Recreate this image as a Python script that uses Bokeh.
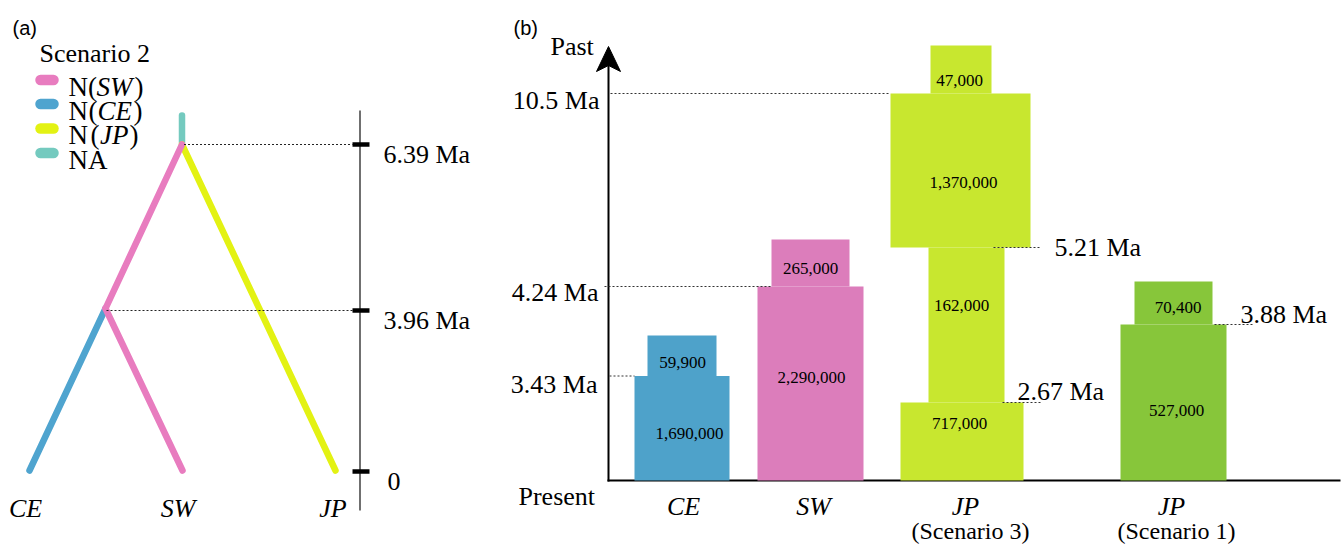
import numpy as np
from bokeh.plotting import figure
from bokeh.models import Range1d
from bokeh.core.properties import value
from bokeh.embed import file_html
from bokeh.resources import INLINE

# ======================= DATA =======================
# Panel (a): Scenario 2 population tree
tree_title = "Scenario 2"
legend_names = ["SW", "CE", "JP", "NA"]
tip_names = ["CE", "SW", "JP"]
split_ce_sw = 3.96      # Ma
split_root = 6.39       # Ma
ticks_a = [0.0, 3.96, 6.39]
tick_labels_a = ["0", "3.96 Ma", "6.39 Ma"]

# Panel (b): effective population size histories
bar_names = ["CE", "SW", "JP", "JP"]
bar_notes = ["", "", "(Scenario 3)", "(Scenario 1)"]
change_ce = [3.43]
ne_ce = [1690000, 59900]
change_sw = [4.24]
ne_sw = [2290000, 265000]
change_jp3 = [2.67, 5.21, 10.5]
ne_jp3 = [717000, 162000, 1370000, 47000]
change_jp1 = [3.88]
ne_jp1 = [527000, 70400]
ticks_b_left = [10.5, 4.24, 3.43]
ticks_b_right = [5.21, 2.67, 3.88]

# ======================= LAYOUT / STYLE =======================
SERIF = value("Liberation Serif")
SANS = value("Liberation Sans")
C_PINK_T, C_BLUE_T, C_YEL_T, C_TEAL = "#E87CBF", "#4FA4CF", "#E3F213", "#74CABF"
C_BLUE_B, C_PINK_B, C_YG_B, C_GREEN_B = "#4EA2CA", "#DC7DBB", "#C8E72F", "#87C63A"

# schematic (not-to-scale) vertical placement of the times
A_Y = [471, 310, 144]
def ya(t):
    return float(np.interp(t, ticks_a, A_Y))

B_T = [0, 2.67, 3.43, 3.88, 4.24, 5.21, 10.5]
B_Y = [480, 402, 375.5, 324, 286, 247, 93]
def yb(t):
    return float(np.interp(t, B_T, B_Y))

W, H = 1343, 545
p = figure(width=W, height=H, x_range=Range1d(0, W), y_range=Range1d(H, 0),
           output_backend="svg", toolbar_location=None, min_border=0,
           x_axis_type=None, y_axis_type=None)
p.grid.visible = False
p.outline_line_color = None
p.background_fill_color = "white"
p.border_fill_color = "white"


def txt(x, y, s, size, align="left", style="normal", font=SERIF, baseline="alphabetic"):
    p.text(x=[x], y=[y], text=[s], text_font=font, text_font_size=f"{size}px",
           text_align=align, text_baseline=baseline, text_font_style=style,
           text_color="black")

# ----------------------- Panel (a) -----------------------
txt(12, 27, "(a)", 20, font=SANS)
txt(39, 53, tree_title, 26)

leg_colors = [C_PINK_T, C_BLUE_T, C_YEL_T, C_TEAL]
leg_y = [79.5, 103.5, 128, 152.5]
paren_x = [87.5, 88, 90]
name_x = [96, 97, 99.5]
close_x = [134, 133, 129]
p.segment(x0=[40] * 4, x1=[53] * 4, y0=leg_y, y1=leg_y, line_color=leg_colors,
          line_width=10.5, line_cap="round")
for i, nm in enumerate(legend_names):
    yb_ = leg_y[i] + 6.5
    if nm == "NA":
        txt(68, yb_, "NA", 27)
    else:
        txt(68, yb_, "N", 27)
        txt(paren_x[i], yb_, "(", 27)
        txt(name_x[i], yb_, nm, 27, style="italic")
        txt(close_x[i], yb_, ")", 27)

tip_x = {"CE": 29, "SW": 182, "JP": 335}
node_x = 105
root_x = 181.5
y_root = ya(split_root)
y_node = ya(split_ce_sw)
y_tip = ya(0) - 1
lw = 6.5
# ancestral stub
p.segment(x0=[root_x], y0=[115], x1=[root_x], y1=[y_root - 2], line_color=C_TEAL,
          line_width=lw, line_cap="round")
p.segment(x0=[root_x], y0=[y_root], x1=[tip_x["JP"]], y1=[y_tip], line_color=C_YEL_T,
          line_width=lw, line_cap="round")
p.segment(x0=[node_x], y0=[y_node - 2], x1=[tip_x["CE"]], y1=[y_tip], line_color=C_BLUE_T,
          line_width=lw, line_cap="round")
p.segment(x0=[node_x], y0=[y_node - 2], x1=[tip_x["SW"]], y1=[y_tip], line_color=C_PINK_T,
          line_width=lw, line_cap="round")
p.segment(x0=[root_x], y0=[y_root], x1=[node_x], y1=[y_node - 2], line_color=C_PINK_T,
          line_width=lw, line_cap="round")

# time axis
p.segment(x0=[359.5], y0=[110], x1=[359.5], y1=[510], line_color="#333333", line_width=1.4)
p.segment(x0=[root_x + 2, node_x + 1], y0=[y_root, y_node], x1=[352, 352], y1=[y_root, y_node],
          line_color="#222222", line_width=1, line_dash="2 2")
p.segment(x0=[352] * 3, x1=[369] * 3, y0=[ya(t) for t in ticks_a], y1=[ya(t) for t in ticks_a],
          line_color="black", line_width=4.5)
for t, lab in zip(ticks_a, tick_labels_a):
    txt(387 if lab == "0" else 383, ya(t) + 9.5, lab, 26)

tip_cx = {"CE": 25, "SW": 177.5, "JP": 332.5}
for nm in tip_names:
    txt(tip_cx[nm], 508, nm, 26, align="center", style="italic")

# ----------------------- Panel (b) -----------------------
txt(513, 27, "(b)", 20, font=SANS)
txt(550, 46, "Past", 26)
txt(518, 496, "Present", 26)

# axes
p.segment(x0=[608], y0=[481], x1=[608], y1=[62], line_color="black", line_width=2)
p.segment(x0=[607], y0=[480], x1=[1340], y1=[480], line_color="black", line_width=2)
p.patch(x=[608, 620, 608, 596], y=[46, 71, 65, 71], fill_color="black", line_color="black",
        line_width=1)

bars = [
    (change_ce, ne_ce, C_BLUE_B, 335,
     [(634, 729), (647, 716)], [(689, 433), (682, 362)]),
    (change_sw, ne_sw, C_PINK_B, 239,
     [(757, 863), (771, 849)], [(811, 377), (810, 268)]),
    (change_jp3, ne_jp3, C_YG_B, 45,
     [(900, 1023), (928, 1004), (890, 1030), (930, 991)],
     [(959, 423), (961, 305), (963, 182), (959, 80)]),
    (change_jp1, ne_jp1, C_GREEN_B, 281,
     [(1120, 1226), (1134, 1212)], [(1176, 410), (1177.5, 307)]),
]
for changes, nes, col, cap_top, xs, labs in bars:
    bottoms = [yb(0)] + [yb(t) for t in changes]
    tops = [yb(t) for t in changes] + [cap_top]
    p.quad(left=[a for a, b in xs], right=[b for a, b in xs], top=tops, bottom=bottoms,
           fill_color=col, line_color=None)
    for (lx, ly), ne in zip(labs, nes):
        txt(lx, ly, f"{ne:,}", 17, align="center")

# dotted time guides
lx0 = {10.5: 610, 4.24: 604, 3.43: 609}
lx1 = {10.5: 890, 4.24: 771, 3.43: 634}
p.segment(x0=[lx0[t] for t in ticks_b_left], x1=[lx1[t] for t in ticks_b_left],
          y0=[yb(t) for t in ticks_b_left], y1=[yb(t) for t in ticks_b_left],
          line_color="#333333", line_width=1, line_dash="2 2")
rx0 = {5.21: 993, 2.67: 1002, 3.88: 1214}
rx1 = {5.21: 1041, 2.67: 1041, 3.88: 1253}
p.segment(x0=[rx0[t] for t in ticks_b_right], x1=[rx1[t] for t in ticks_b_right],
          y0=[yb(t) for t in ticks_b_right], y1=[yb(t) for t in ticks_b_right],
          line_color="#333333", line_width=1, line_dash="2 2")

left_off = {10.5: 7, 4.24: 6, 3.43: 8.5}
left_x = {10.5: 599, 4.24: 598, 3.43: 597}
for t in ticks_b_left:
    txt(left_x[t], yb(t) + left_off[t], f"{t} Ma", 26, align="right")
rlab = {5.21: (1054, 247), 2.67: (1017, 391), 3.88: (1240, 314)}
for t in ticks_b_right:
    x, y = rlab[t]
    txt(x, y, f"{t} Ma", 26)

name_cx = [683, 813, 965, 1171]
note_cx = [683, 813, 970, 1176]
for nm, note, cx, ncx in zip(bar_names, bar_notes, name_cx, note_cx):
    txt(cx, 506, nm, 26, align="center", style="italic")
    if note:
        txt(ncx, 530, note, 24, align="center")

open("out.html", "w").write(file_html(p, INLINE))
